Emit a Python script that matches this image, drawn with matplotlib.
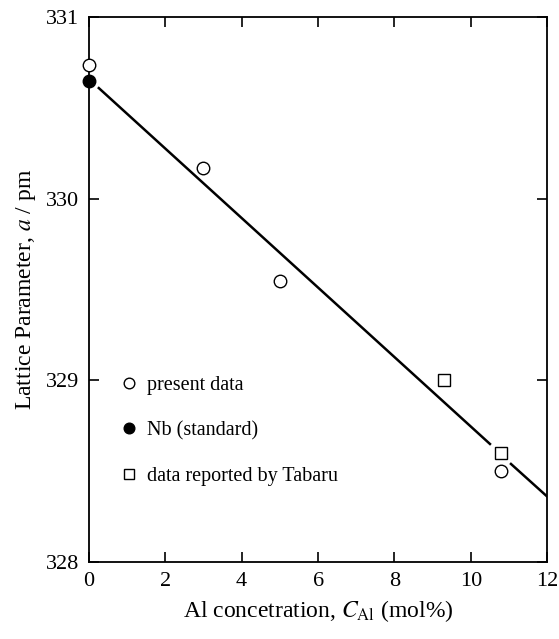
from matplotlib import pyplot as plt
import numpy as np

plt.rcParams['font.family'] = ['Liberation Serif', 'DejaVu Serif']
plt.rcParams['mathtext.fontset'] = 'stix'

# present data (open circles)
present_x = [0, 3, 5, 10.8]
present_y = [330.735, 330.17, 329.55, 328.5]
# Nb standard (filled circle)
nb_x = [0]
nb_y = [330.65]
# Tabaru data (squares)
tabaru_x = [9.3, 10.8]
tabaru_y = [329.0, 328.6]
# fitted line, broken where markers sit
fit_x = [0.26, 10.5, np.nan, 11.05, 12.0]
fit_y = [330.61, 328.65, np.nan, 328.54, 328.36]

fig = plt.figure(figsize=(5.59, 6.39), dpi=100)
ax = fig.add_axes([0.159, 0.1205, 0.82, 0.8525])

ax.plot(fit_x, fit_y, color='k', linewidth=1.8, zorder=2)
ax.plot(present_x, present_y, linestyle='none', marker='o', markersize=9,
        markerfacecolor='white', markeredgecolor='k', markeredgewidth=1.0,
        label='present data', zorder=3, clip_on=False)
ax.plot(nb_x, nb_y, linestyle='none', marker='o', markersize=9,
        markerfacecolor='k', markeredgecolor='k',
        label='Nb (standard)', zorder=3, clip_on=False)
ax.plot(tabaru_x, tabaru_y, linestyle='none', marker='s', markersize=9,
        markerfacecolor='white', markeredgecolor='k', markeredgewidth=1.0,
        label='data reported by Tabaru', zorder=3)

ax.set_xlim(0, 12)
ax.set_ylim(328, 331)
ax.set_xticks(np.arange(0, 13, 2))
ax.set_yticks([328, 329, 330, 331])
ax.tick_params(direction='in', length=7, width=1.2, top=True, right=True,
               labelsize=16, pad=7)
for sp in ax.spines.values():
    sp.set_linewidth(1.3)

ax.set_xlabel(r'Al concetration, $C_{\mathrm{Al}}$ (mol%)', fontsize=17, labelpad=5)
ax.set_ylabel(r'Lattice Parameter, $a$ / pm', fontsize=17, labelpad=6)

leg = ax.legend(loc='lower left', bbox_to_anchor=(0.035, 0.107), frameon=False,
                fontsize=14.5, handlelength=0.6, handletextpad=0.6,
                labelspacing=1.3, markerscale=0.85)

plt.savefig('out.png', dpi=100)
